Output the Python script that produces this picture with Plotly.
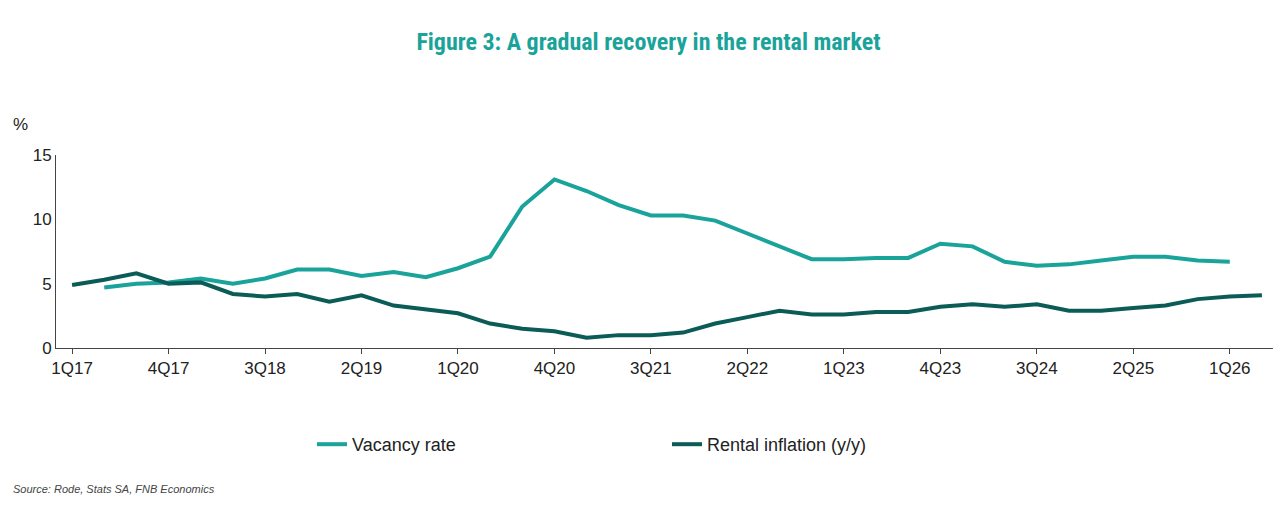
import plotly.graph_objects as go

quarters = [f"{q}Q{y}" for y in range(17, 27) for q in range(1, 5)][:38]

vacancy_rate = [None, 4.7, 5.0, 5.1, 5.4, 5.0, 5.4, 6.1, 6.1, 5.6, 5.9, 5.5, 6.2, 7.1,
                11.0, 13.1, 12.2, 11.1, 10.3, 10.3, 9.9, 8.9, 7.9, 6.9, 6.9, 7.0, 7.0,
                8.1, 7.9, 6.7, 6.4, 6.5, 6.8, 7.1, 7.1, 6.8, 6.7, None]

rental_inflation = [4.9, 5.3, 5.8, 5.0, 5.1, 4.2, 4.0, 4.2, 3.6, 4.1, 3.3, 3.0, 2.7, 1.9,
                    1.5, 1.3, 0.8, 1.0, 1.0, 1.2, 1.9, 2.4, 2.9, 2.6, 2.6, 2.8, 2.8, 3.2,
                    3.4, 3.2, 3.4, 2.9, 2.9, 3.1, 3.3, 3.8, 4.0, 4.1]

tick_labels = quarters[::3]

fig = go.Figure()
fig.add_trace(go.Scatter(x=quarters, y=vacancy_rate, name="Vacancy rate", mode="lines",
                         line=dict(color="#1aa39a", width=4)))
fig.add_trace(go.Scatter(x=quarters, y=rental_inflation, name="Rental inflation (y/y)", mode="lines",
                         line=dict(color="#0b5c57", width=4)))

fig.update_layout(
    width=1281, height=521,
    margin=dict(l=48, r=11, t=147, b=181),
    plot_bgcolor="white", paper_bgcolor="white",
    font=dict(family="Liberation Sans, Arial", size=17, color="#222"),
    title=dict(text="<b>Figure 3: A gradual recovery in the rental market</b>",
               x=0.5, xanchor="center", y=0.935, yanchor="middle",
               font=dict(size=24, color="#1aa39a", family="Roboto Condensed, Roboto, Arial")),
    legend=dict(orientation="h", x=0.5, xanchor="center", y=-0.5, yanchor="middle",
                font=dict(size=18), entrywidthmode="pixels", entrywidth=310),
    xaxis=dict(type="category", tickmode="array", tickvals=tick_labels, ticktext=tick_labels,
               range=[-0.5, 37.5], showgrid=False, showline=True, linecolor="#444",
               ticks="outside", ticklen=5, tickcolor="#444", automargin=False),
    yaxis=dict(range=[0, 15], tickvals=[0, 5, 10, 15], showgrid=False, showline=True,
               linecolor="#444", ticks="", zeroline=False, automargin=False),
)

fig.add_annotation(text="%", xref="paper", yref="paper", x=-0.037, y=1.22, xanchor="left",
                   showarrow=False, font=dict(size=17))
fig.add_annotation(text="<i>Source: Rode, Stats SA, FNB Economics</i>", xref="paper", yref="paper",
                   x=-0.037, y=-0.77, xanchor="left", showarrow=False,
                   font=dict(size=11, color="#444"))

fig.write_html("out.html")
